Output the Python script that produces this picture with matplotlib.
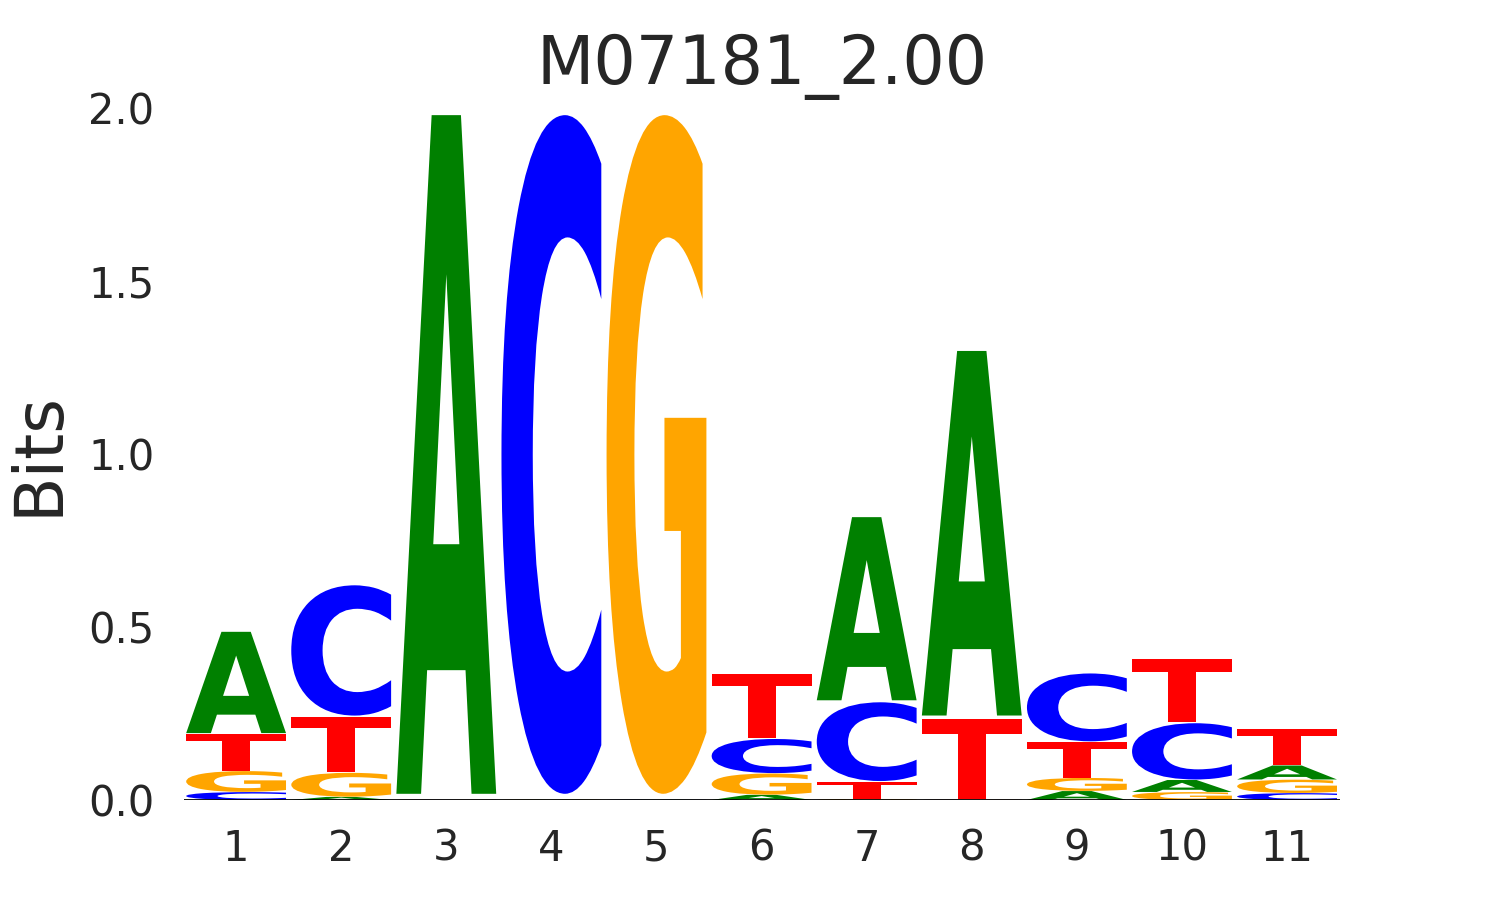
import numpy as np
import matplotlib
matplotlib.use("Agg")
from matplotlib import pyplot as plt
from matplotlib.textpath import TextPath
from matplotlib.patches import PathPatch
from matplotlib.font_manager import FontProperties
from matplotlib.transforms import Affine2D

positions = [1, 2, 3, 4, 5, 6, 7, 8, 9, 10, 11]
# information content (bits) for each base at each position
bits_A = [0.297, 0.009, 1.990, 0.001, 0.001, 0.015, 0.537, 1.069, 0.026, 0.035, 0.041]
bits_C = [0.023, 0.382, 0.001, 1.990, 0.001, 0.100, 0.231, 0.001, 0.199, 0.165, 0.020]
bits_G = [0.061, 0.070, 0.001, 0.001, 1.990, 0.062, 0.003, 0.001, 0.038, 0.023, 0.039]
bits_T = [0.107, 0.162, 0.001, 0.001, 0.001, 0.189, 0.050, 0.234, 0.104, 0.185, 0.107]

colors = {'A': 'green', 'C': 'blue', 'G': 'orange', 'T': 'red'}
font = FontProperties(family='DejaVu Sans', weight='bold')
text_color = '#262626'
VPAD = 0.015


def draw_letter(ax, letter, x, floor, height, width=0.95):
    path = TextPath((0, 0), letter, size=1, prop=font)
    ext = path.get_extents()
    h = height * (1 - VPAD)
    tr = (Affine2D()
          .translate(-ext.x0, -ext.y0)
          .scale(width / ext.width, h / ext.height)
          .translate(x - width / 2, floor + height * VPAD / 2))
    ax.add_patch(PathPatch(tr.transform_path(path), facecolor=colors[letter],
                           edgecolor='none'))


fig = plt.figure(figsize=(14.85, 9), dpi=100)
ax = fig.add_axes([0.1236, 0.1111, 0.7785, 0.7694])

for i, pos in enumerate(positions):
    col = {'A': bits_A[i], 'C': bits_C[i], 'G': bits_G[i], 'T': bits_T[i]}
    floor = 0.0
    for letter, h in sorted(col.items(), key=lambda kv: kv[1]):
        draw_letter(ax, letter, pos, floor, h)
        floor += h

ax.axhline(0, color='black', lw=2)
ax.set_xlim(0.5, 11.5)
ax.set_ylim(0, 2.0)
for s in ax.spines.values():
    s.set_visible(False)

ax.set_xticks(positions)
ax.set_xticklabels([str(p) for p in positions])
ax.set_yticks([0, 0.5, 1.0, 1.5, 2.0])
ax.set_yticklabels(['0.0', '0.5', '1.0', '1.5', '2.0'])
ax.tick_params(axis='both', length=0, labelsize=30, colors=text_color)
ax.tick_params(axis='x', pad=20)
ax.tick_params(axis='y', pad=21)

ax.set_ylabel('Bits', fontsize=48, color=text_color, labelpad=12)
ax.set_title('M07181_2.00', fontsize=48, color=text_color, pad=17)

fig.savefig('out.png', dpi=100, facecolor='white')
